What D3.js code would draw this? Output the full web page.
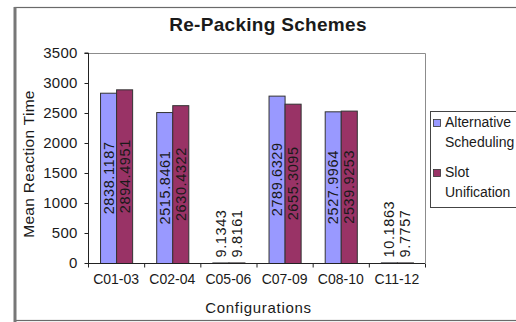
<!DOCTYPE html>
<html>
<head>
<meta charset="utf-8">
<script src="https://cdn.jsdelivr.net/npm/d3@7"></script>
<style>
  html, body { margin: 0; padding: 0; background: #ffffff; }
  svg { display: block; font-family: "Liberation Sans", Arial, sans-serif; }
</style>
</head>
<body>
<svg id="chart" width="516" height="322"></svg>
<script>
const categories = ["C01-03", "C02-04", "C05-06", "C07-09", "C08-10", "C11-12"];
const seriesNames = ["Alternative Scheduling", "Slot Unification"];
const altScheduling = [2838.1187, 2515.8461, 9.1343, 2789.6329, 2527.9964, 10.1863];
const slotUnification = [2894.4951, 2630.4322, 9.8161, 2655.3095, 2539.9253, 9.7757];
const yTicks = [0, 500, 1000, 1500, 2000, 2500, 3000, 3500];
const seriesColors = ["#9999FF", "#993366"];

const svg = d3.select("#chart");
const textColor = "#1a1a1a";

// outer chart frame
svg.append("rect")
  .attr("x", 15).attr("y", 7.5).attr("width", 530).attr("height", 313)
  .attr("fill", "#fff").attr("stroke", "#6a6a6a").attr("stroke-width", 1.2);
svg.append("line")
  .attr("x1", 15).attr("x2", 15).attr("y1", 7).attr("y2", 322)
  .attr("stroke", "#777").attr("stroke-width", 3);

const plot = { left: 88, right: 425, top: 53, bottom: 263 };

const x = d3.scaleBand().domain(categories).range([plot.left, plot.right]).padding(0);
const xs = d3.scaleBand().domain([0, 1]).range([0, x.bandwidth()]).paddingInner(0).paddingOuter(0.75);
const y = d3.scaleLinear().domain([0, 3500]).range([plot.bottom, plot.top]);

// plot area border (top and right, gray)
svg.append("path")
  .attr("d", `M${plot.left},${plot.top + 0.5}H${plot.right + 0.5}V${plot.bottom}`)
  .attr("fill", "none").attr("stroke", "#8c8c8c").attr("stroke-width", 1);

// title
svg.append("text")
  .attr("x", 268).attr("y", 31)
  .attr("text-anchor", "middle")
  .attr("font-size", 19).attr("font-weight", "bold")
  .attr("letter-spacing", 0.3)
  .attr("fill", textColor)
  .text("Re-Packing Schemes");

// bars
const rows = categories.map((c, i) => ({ cat: c, vals: [altScheduling[i], slotUnification[i]] }));
const groups = svg.append("g").selectAll("g").data(rows).join("g")
  .attr("transform", d => `translate(${x(d.cat)},0)`);

groups.selectAll("rect").data(d => d.vals.map((v, k) => ({ v, k })))
  .join("rect")
  .attr("x", d => xs(d.k) + 0.5)
  .attr("y", d => y(d.v) + 0.5)
  .attr("width", xs.bandwidth())
  .attr("height", d => Math.max(0, y(0) - y(d.v)))
  .attr("fill", d => seriesColors[d.k])
  .attr("stroke", "#333").attr("stroke-width", 1);

// data labels (rotated)
groups.selectAll("text").data(d => d.vals.map((v, k) => ({ v, k })))
  .join("text")
  .attr("font-size", 14.5).attr("letter-spacing", 0.6)
  .attr("fill", textColor)
  .attr("dominant-baseline", "central")
  .text(d => d.v.toFixed(4))
  .each(function (d) {
    const len = this.getComputedTextLength();
    const cx = xs(d.k) + xs.bandwidth() / 2 + 0.5;
    const barH = y(0) - y(d.v);
    let cy, anchor;
    if (barH > len + 10) { cy = y(d.v / 2); anchor = "middle"; }
    else { cy = y(d.v) - 5; anchor = "start"; }
    d3.select(this)
      .attr("text-anchor", anchor)
      .attr("transform", `translate(${cx},${cy}) rotate(-90)`);
  });

// y axis
const yAxis = d3.axisLeft(y).tickValues(yTicks).tickSize(4).tickPadding(7).tickFormat(d3.format("d"));
const gy = svg.append("g").attr("transform", `translate(${plot.left + 0.5},0)`).call(yAxis);
gy.select(".domain").attr("stroke", "#222").attr("d", `M-4,${plot.top}H0V${plot.bottom}`);
gy.selectAll(".tick line").attr("stroke", "#222");
gy.selectAll(".tick text").attr("font-size", 15).attr("font-family", "Liberation Sans, Arial, sans-serif")
  .attr("fill", textColor).attr("letter-spacing", 0.2);

// x axis
const xAxis = d3.axisBottom(x).tickSize(0).tickPadding(18);
const gx = svg.append("g").attr("transform", `translate(0,${plot.bottom + 0.5})`).call(xAxis);
gx.select(".domain").attr("stroke", "#222").attr("d", `M${plot.left},0H${plot.right}`);
gx.selectAll(".tick text").attr("font-size", 14).attr("font-family", "Liberation Sans, Arial, sans-serif")
  .attr("fill", textColor).attr("dy", "0.2em");
// boundary tick marks between categories
const bounds = categories.map(c => x(c)).concat([x(categories[categories.length - 1]) + x.bandwidth()]);
gx.selectAll(".bound").data(bounds).join("line")
  .attr("class", "bound")
  .attr("x1", d => d + 0.5).attr("x2", d => d + 0.5)
  .attr("y1", 0).attr("y2", 4)
  .attr("stroke", "#222");

// axis titles
svg.append("text")
  .attr("transform", `translate(28,${(plot.top + plot.bottom) / 2 + 6}) rotate(-90)`)
  .attr("text-anchor", "middle").attr("dominant-baseline", "central")
  .attr("font-size", 15.5).attr("letter-spacing", 0.3)
  .attr("fill", textColor)
  .text("Mean Reaction Time");

svg.append("text")
  .attr("x", (plot.left + plot.right) / 2 + 2).attr("y", 313)
  .attr("text-anchor", "middle")
  .attr("font-size", 15).attr("letter-spacing", 0.7)
  .attr("fill", textColor)
  .text("Configurations");

// legend
const legend = svg.append("g").attr("transform", "translate(430,111)");
legend.append("rect")
  .attr("x", 0.5).attr("y", 0.5).attr("width", 120).attr("height", 96)
  .attr("fill", "#fff").attr("stroke", "#444").attr("stroke-width", 1);
const legendLines = [["Alternative", "Scheduling"], ["Slot", "Unification"]];
const entryY = [16, 66];
seriesNames.forEach((name, k) => {
  legend.append("rect")
    .attr("x", 3.5).attr("y", entryY[k] - 7.5).attr("width", 7).attr("height", 7)
    .attr("fill", seriesColors[k]).attr("stroke", "#333").attr("stroke-width", 0.8);
  const t = legend.append("text")
    .attr("font-size", 14).attr("fill", textColor);
  legendLines[k].forEach((ln, j) => {
    t.append("tspan").attr("x", 15).attr("y", entryY[k] + j * 20).text(ln);
  });
});
</script>
</body>
</html>
